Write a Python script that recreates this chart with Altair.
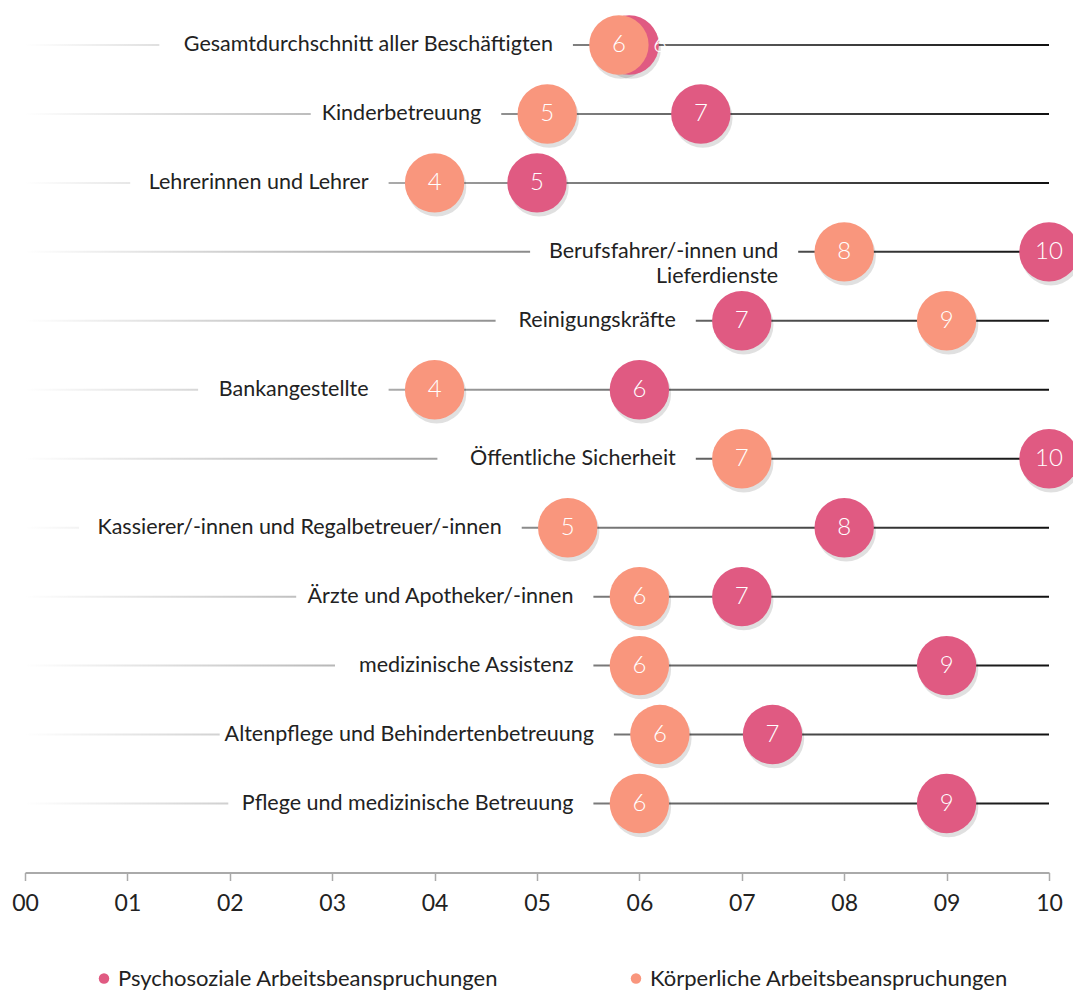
import altair as alt
import pandas as pd

categories = [
    "Gesamtdurchschnitt aller Beschäftigten",
    "Kinderbetreuung",
    "Lehrerinnen und Lehrer",
    "Berufsfahrer/-innen und\nLieferdienste",
    "Reinigungskräfte",
    "Bankangestellte",
    "Öffentliche Sicherheit",
    "Kassierer/-innen und Regalbetreuer/-innen",
    "Ärzte und Apotheker/-innen",
    "medizinische Assistenz",
    "Altenpflege und Behindertenbetreuung",
    "Pflege und medizinische Betreuung",
]
psycho_values = [5.9, 6.6, 5.0, 10.0, 7.0, 6.0, 10.0, 8.0, 7.0, 9.0, 7.3, 9.0]
psycho_labels = [6, 7, 5, 10, 7, 6, 10, 8, 7, 9, 7, 9]
koerper_values = [5.8, 5.1, 4.0, 8.0, 9.0, 4.0, 7.0, 5.3, 6.0, 6.0, 6.2, 6.0]
koerper_labels = [6, 5, 4, 8, 9, 4, 7, 5, 6, 6, 6, 6]
series_names = ["Psychosoziale Arbeitsbeanspruchungen", "Körperliche Arbeitsbeanspruchungen"]
series_colors = ["#E05A82", "#F9967D"]
axis_min, axis_max = 0, 10

PLOT_W = 1024
PX_PER_UNIT = PLOT_W / (axis_max - axis_min)
LABEL_GAP = 66
CHAR_W = 9.7

# points table (pink first so orange is drawn on top)
rows = []
for c, v, l in zip(categories, psycho_values, psycho_labels):
    rows.append({"cat": c, "series": series_names[0], "value": v, "label": str(l)})
for c, v, l in zip(categories, koerper_values, koerper_labels):
    rows.append({"cat": c, "series": series_names[1], "value": v, "label": str(l)})
pts = pd.DataFrame(rows)

# label x position: shift a label that would collide with the other circle's label
lab_x = []
for i, r in pts.iterrows():
    idx = categories.index(r["cat"])
    other = koerper_values[idx] if r["series"] == series_names[0] else psycho_values[idx]
    if r["series"] == series_names[0] and abs(r["value"] - other) < 0.5:
        lab_x.append(r["value"] + 0.3)
    else:
        lab_x.append(r["value"])
pts["label_x"] = lab_x

# row labels table
lo = [min(a, b) for a, b in zip(psycho_values, koerper_values)]
text_w = [CHAR_W * max(len(s) for s in c.split("\n")) for c in categories]
rowdf = pd.DataFrame({
    "cat": categories,
    "lo": lo,
    "bg_start": [l - (LABEL_GAP + w + 25) / PX_PER_UNIT for l, w in zip(lo, text_w)],
    "bg_end": [l - (LABEL_GAP - 20) / PX_PER_UNIT for l in lo],
    "x0": [axis_min] * len(categories),
    "x1": [axis_max] * len(categories),
})

yenc = alt.Y("cat:N", sort=categories, axis=None,
             scale=alt.Scale(paddingInner=0, paddingOuter=0.25, align=0))
xscale = alt.Scale(domain=[axis_min, axis_max], nice=False, zero=False)

gradient = alt.Gradient(
    gradient="linear",
    stops=[alt.GradientStop(color="#ffffff", offset=0),
           alt.GradientStop(color="#111111", offset=1)],
    x1=0, x2=1, y1=0, y2=0,
)

lines = alt.Chart(rowdf).mark_bar(fill=gradient, size=2).encode(
    x=alt.X("x0:Q", scale=xscale, axis=alt.Axis(
        values=list(range(axis_min, axis_max + 1)),
        labelExpr="datum.value < 10 ? '0' + datum.value : '' + datum.value",
        title=None, grid=False, tickSize=8, tickColor="#aaaaaa", tickWidth=1.5,
        domainColor="#aaaaaa", domainWidth=2, labelFontSize=23, labelColor="#222222",
        labelPadding=12, labelFont="Lato", labelFlush=False)),
    x2="x1:Q",
    y=yenc,
)

bg = alt.Chart(rowdf).mark_bar(fill="white", size=30).encode(
    x=alt.X("bg_start:Q", scale=xscale),
    x2="bg_end:Q",
    y=yenc,
)

rowtext = alt.Chart(rowdf).mark_text(
    align="right", baseline="middle", dx=-LABEL_GAP, fontSize=21.5, font="Lato",
    color="#222222", lineBreak="\n", lineHeight=25,
).encode(
    x=alt.X("lo:Q", scale=xscale),
    y=yenc,
    text="cat:N",
)

shadow = alt.Chart(pts).mark_circle(size=3530, color="#000000", opacity=0.12,
                                     xOffset=2, yOffset=4).encode(
    x=alt.X("value:Q", scale=xscale),
    y=yenc,
)

circles = alt.Chart(pts).mark_circle(size=3530, opacity=1).encode(
    x=alt.X("value:Q", scale=xscale),
    y=yenc,
    color=alt.Color("series:N", scale=alt.Scale(domain=series_names, range=series_colors),
                    legend=alt.Legend(
                        title=None, orient="none", direction="horizontal",
                        legendX=68, legendY=957, symbolType="circle", symbolSize=110,
                        labelFontSize=22, labelFont="Lato", labelColor="#222222",
                        labelLimit=800, columnPadding=126, symbolOffset=0,
                        labelOffset=3, symbolStrokeWidth=0)),
)

circtext = alt.Chart(pts).mark_text(
    color="white", fontSize=24, font="Lato", fontWeight=300, baseline="middle", align="center"
).encode(
    x=alt.X("label_x:Q", scale=xscale),
    y=yenc,
    text="label:N",
)

chart = alt.layer(lines, bg, rowtext, shadow, circles, circtext).properties(
    width=PLOT_W, height=862,
    autosize=alt.AutoSizeParams(type="none"),
    padding={"left": 17, "top": 2.5, "right": 24, "bottom": 117},
).configure(font="Lato").configure_view(stroke=None, strokeWidth=0)

chart.save("out.html", embed_options={"renderer": "svg", "actions": False})
